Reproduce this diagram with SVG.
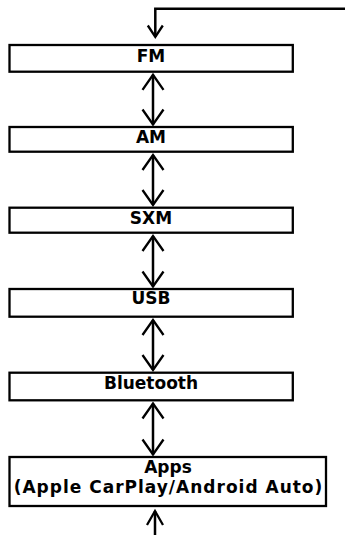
<svg xmlns="http://www.w3.org/2000/svg" width="345" height="535" viewBox="0 0 345 535">
<style>
.box{fill:#fff;stroke:#000;stroke-width:2.3}
.lbl{font-family:"DejaVu Sans",Verdana,sans-serif;font-weight:bold;font-size:17px;text-anchor:middle;fill:#000}
.ln{fill:none;stroke:#000;stroke-width:2.5}
.dbl{marker-start:url(#big);marker-end:url(#big)}
</style>
<defs>
<marker id="big" markerUnits="userSpaceOnUse" orient="auto-start-reverse" viewBox="-17 -12 19 24" refX="0" refY="0" markerWidth="19" markerHeight="24" overflow="visible">
<path d="M-15,-10.5 L0,0 L-15,10.5" fill="none" stroke="#000" stroke-width="2.3"/>
</marker>
<marker id="small" markerUnits="userSpaceOnUse" orient="auto" viewBox="-14 -9 16 18" refX="0" refY="0" markerWidth="16" markerHeight="18" overflow="visible">
<path d="M-11.5,-7.5 L0,0 L-11.5,7.5" fill="none" stroke="#000" stroke-width="2.3"/>
</marker>
<marker id="bottom" markerUnits="userSpaceOnUse" orient="auto" viewBox="-16 -10 18 20" refX="0" refY="0" markerWidth="18" markerHeight="20" overflow="visible">
<path d="M-14,-8 L0,0 L-14,8" fill="none" stroke="#000" stroke-width="2.3"/>
</marker>
</defs>
<g id="connectors">
<path class="ln" d="M345,8.7 H155.3 V37" marker-end="url(#small)"/>
<path class="ln dbl" d="M153,74.8 V124.5"/>
<path class="ln dbl" d="M153,155 V205"/>
<path class="ln dbl" d="M153,236 V286.5"/>
<path class="ln dbl" d="M153,320 V370"/>
<path class="ln dbl" d="M153,403.5 V454.5"/>
<path class="ln" d="M155,535 V511" marker-end="url(#bottom)"/>
</g>
<g id="fm"><rect class="box" x="9.5" y="45" width="283.3" height="26.7"/><text class="lbl" x="151" y="61.7">FM</text></g>
<g id="am"><rect class="box" x="9.5" y="127" width="283.3" height="24.7"/><text class="lbl" x="151" y="143">AM</text></g>
<g id="sxm"><rect class="box" x="9.5" y="207.7" width="283.3" height="25"/><text class="lbl" x="151" y="223.5">SXM</text></g>
<g id="usb"><rect class="box" x="9.5" y="289" width="283.3" height="27.7"/><text class="lbl" x="151" y="304.3">USB</text></g>
<g id="bluetooth"><rect class="box" x="9.5" y="372.7" width="283.3" height="27.6"/><text class="lbl" x="151" y="388.5">Bluetooth</text></g>
<g id="apps"><rect class="box" x="9.5" y="457" width="316.5" height="49"/><text class="lbl" x="168" y="472.5">Apps</text><text class="lbl" x="168.5" y="492.5" letter-spacing="1">(Apple CarPlay/Android Auto)</text></g>
</svg>
